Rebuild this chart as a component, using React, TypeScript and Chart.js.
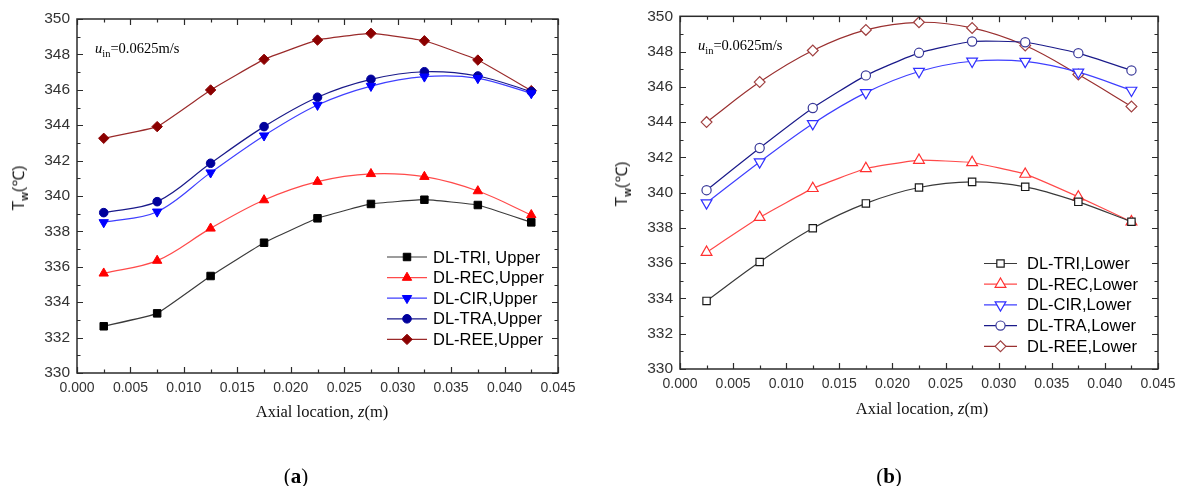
import React, { useEffect, useRef } from 'react';
import { Chart, registerables } from 'chart.js';

Chart.register(...registerables);

// ---------- data ----------
const Z_LOC = [0.0025, 0.0075, 0.0125, 0.0175, 0.0225, 0.0275, 0.0325, 0.0375, 0.0425];

const TRI_UPPER = [332.64, 333.37, 335.48, 337.36, 338.74, 339.55, 339.79, 339.49, 338.51];
const REC_UPPER = [335.63, 336.35, 338.17, 339.77, 340.81, 341.25, 341.09, 340.28, 338.93];
const CIR_UPPER = [338.51, 339.11, 341.32, 343.41, 345.14, 346.21, 346.74, 346.65, 345.8];
const TRA_UPPER = [339.06, 339.68, 341.85, 343.92, 345.58, 346.59, 347.02, 346.78, 345.9];
const REE_UPPER = [343.26, 343.92, 345.99, 347.72, 348.81, 349.19, 348.77, 347.68, 345.95];

const TRI_LOWER = [333.86, 336.07, 337.98, 339.39, 340.29, 340.61, 340.33, 339.48, 338.35];
const REC_LOWER = [336.62, 338.6, 340.24, 341.37, 341.84, 341.71, 341.05, 339.76, 338.35];
const CIR_LOWER = [339.42, 341.74, 343.91, 345.67, 346.87, 347.45, 347.44, 346.83, 345.8];
const TRA_LOWER = [340.14, 342.53, 344.8, 346.65, 347.93, 348.57, 348.53, 347.91, 346.93];
const REE_LOWER = [344.0, 346.27, 348.06, 349.23, 349.66, 349.34, 348.34, 346.7, 344.89];

const LABELS_UPPER = ['DL-TRI, Upper', 'DL-REC,Upper', 'DL-CIR,Upper', 'DL-TRA,Upper', 'DL-REE,Upper'];
const LABELS_LOWER = ['DL-TRI,Lower', 'DL-REC,Lower', 'DL-CIR,Lower', 'DL-TRA,Lower', 'DL-REE,Lower'];

const X_MIN = 0;
const X_MAX = 0.045;
const X_STEP = 0.005;
const Y_MIN = 330;
const Y_MAX = 350;
const Y_STEP = 2;

// ---------- styles ----------
type Style = {
  color: string;
  line: string;
  shape: string;
  rot: number;
  r: number;
};

const STYLES: Style[] = [
  { color: '#000000', line: '#3a3a3a', shape: 'rect', rot: 0, r: 5.3 },
  { color: '#ff0000', line: '#ff4a4a', shape: 'triangle', rot: 0, r: 5.4 },
  { color: '#0000ff', line: '#3f3fff', shape: 'triangle', rot: 180, r: 5.4 },
  { color: '#00009c', line: '#1a1a8a', shape: 'circle', rot: 0, r: 4.3 },
  { color: '#8b0000', line: '#9a2a2a', shape: 'rectRot', rot: 0, r: 5.2 },
];
const STYLES_HOLLOW: Style[] = [
  { color: '#1a1a1a', line: '#3a3a3a', shape: 'rect', rot: 0, r: 5.2 },
  { color: '#ff3030', line: '#ff4a4a', shape: 'triangle', rot: 0, r: 6.2 },
  { color: '#3030ff', line: '#3f3fff', shape: 'triangle', rot: 180, r: 6.2 },
  { color: '#3a3a9a', line: '#1a1a8a', shape: 'circle', rot: 0, r: 4.6 },
  { color: '#a04040', line: '#9a3030', shape: 'rectRot', rot: 0, r: 5.4 },
];
const TENSION_UPPER = [0.1, 0.35, 0.35, 0.35, 0.1];
const TENSION_LOWER = [0.35, 0.1, 0.35, 0.15, 0.35];

function drawMarker(
  ctx: CanvasRenderingContext2D,
  st: Style,
  x: number,
  y: number,
  filled: boolean
) {
  const r = st.r;
  ctx.beginPath();
  if (st.shape === 'rect') {
    const s = r * Math.SQRT1_2;
    ctx.rect(x - s, y - s, 2 * s, 2 * s);
  } else if (st.shape === 'circle') {
    ctx.arc(x, y, r, 0, Math.PI * 2);
  } else if (st.shape === 'triangle') {
    let rad = (st.rot * Math.PI) / 180;
    ctx.moveTo(x + Math.sin(rad) * r, y - Math.cos(rad) * r);
    rad += (2 * Math.PI) / 3;
    ctx.lineTo(x + Math.sin(rad) * r, y - Math.cos(rad) * r);
    rad += (2 * Math.PI) / 3;
    ctx.lineTo(x + Math.sin(rad) * r, y - Math.cos(rad) * r);
  } else {
    ctx.moveTo(x - r, y);
    ctx.lineTo(x, y - r);
    ctx.lineTo(x + r, y);
    ctx.lineTo(x, y + r);
  }
  ctx.closePath();
  ctx.fillStyle = filled ? st.color : '#ffffff';
  ctx.fill();
  ctx.strokeStyle = st.color;
  ctx.lineWidth = filled ? 1 : 1.2;
  ctx.stroke();
}

type LegendPos = { x1: number; x2: number; tx: number; y0: number; dy: number };

function makeFramePlugin(labels: string[], styles: Style[], filled: boolean, lp: LegendPos) {
  return {
    id: 'frameAndLegend',
    afterDraw(chart: any) {
      const { ctx, chartArea: a, scales } = chart;
      const xs = scales.x;
      const ys = scales.y;
      ctx.save();
      ctx.strokeStyle = '#2b2b2b';
      ctx.lineWidth = 1.5;
      ctx.strokeRect(a.left, a.top, a.right - a.left, a.bottom - a.top);
      ctx.lineWidth = 1.2;
      ctx.beginPath();
      const nx = Math.round((X_MAX - X_MIN) / (X_STEP / 2));
      for (let i = 0; i <= nx; i++) {
        const v = X_MIN + (i * X_STEP) / 2;
        const len = i % 2 === 0 ? 6 : 3.5;
        const px = Math.round(xs.getPixelForValue(v)) + 0.5;
        ctx.moveTo(px, a.bottom);
        ctx.lineTo(px, a.bottom - len);
        ctx.moveTo(px, a.top);
        ctx.lineTo(px, a.top + len);
      }
      const ny = Math.round((Y_MAX - Y_MIN) / (Y_STEP / 2));
      for (let i = 0; i <= ny; i++) {
        const v = Y_MIN + (i * Y_STEP) / 2;
        const len = i % 2 === 0 ? 6 : 3.5;
        const py = Math.round(ys.getPixelForValue(v)) + 0.5;
        ctx.moveTo(a.left, py);
        ctx.lineTo(a.left + len, py);
        ctx.moveTo(a.right, py);
        ctx.lineTo(a.right - len, py);
      }
      ctx.stroke();

      // legend
      ctx.font = '16.5px "Liberation Sans", Arial, sans-serif';
      ctx.textBaseline = 'middle';
      ctx.textAlign = 'left';
      labels.forEach((lab, i) => {
        const y = lp.y0 + i * lp.dy;
        const st = styles[i];
        ctx.beginPath();
        ctx.strokeStyle = st.line;
        ctx.lineWidth = 1.2;
        ctx.moveTo(lp.x1, y);
        ctx.lineTo(lp.x2, y);
        ctx.stroke();
        drawMarker(ctx, st, (lp.x1 + lp.x2) / 2, y, filled);
        ctx.fillStyle = '#000';
        ctx.fillText(lab, lp.tx, y + 1);
      });
      ctx.restore();
    },
  };
}

type PanelProps = {
  series: number[][];
  labels: string[];
  styles: Style[];
  tensions: number[];
  filled: boolean;
  width: number;
  height: number;
  yWidth: number;
  padding: { top: number; right: number; bottom: number; left: number };
  legend: LegendPos;
};

function Panel(p: PanelProps) {
  const ref = useRef<HTMLCanvasElement | null>(null);
  useEffect(() => {
    if (!ref.current) return;
    const tickFont = { family: '"Liberation Sans", Arial, sans-serif', size: 15.5 };
    const chart = new Chart(ref.current, {
      type: 'line',
      data: {
        datasets: p.series.map((vals, i) => {
          const st = p.styles[i];
          return {
            label: p.labels[i],
            data: Z_LOC.map((z, k) => ({ x: z, y: vals[k] })),
            borderColor: st.line,
            borderWidth: 1.2,
            pointStyle: st.shape as any,
            pointRotation: st.rot,
            pointRadius: st.r,
            pointHoverRadius: st.r,
            pointBackgroundColor: p.filled ? st.color : '#ffffff',
            pointBorderColor: st.color,
            pointBorderWidth: p.filled ? 1 : 1.2,
            tension: p.tensions[i],
            fill: false,
          };
        }),
      },
      options: {
        animation: false,
        responsive: false,
        devicePixelRatio: 1,
        events: [],
        layout: { padding: p.padding },
        plugins: { legend: { display: false }, tooltip: { enabled: false } },
        scales: {
          x: {
            type: 'linear',
            min: X_MIN,
            max: X_MAX,
            grid: { display: false, drawTicks: false },
            border: { display: false },
            ticks: {
              stepSize: X_STEP,
              autoSkip: false,
              maxRotation: 0,
              padding: 7,
              color: '#333',
              font: { family: '"Liberation Sans", Arial, sans-serif', size: 14 },
              callback: (v: any) => Number(v).toFixed(3),
            },
            afterFit: (s: any) => {
              s.height = 40;
            },
          },
          y: {
            type: 'linear',
            min: Y_MIN,
            max: Y_MAX,
            grid: { display: false, drawTicks: false },
            border: { display: false },
            ticks: {
              stepSize: Y_STEP,
              padding: 7,
              color: '#333',
              font: tickFont,
            },
            afterFit: (s: any) => {
              s.width = p.yWidth;
            },
          },
        },
      },
      plugins: [makeFramePlugin(p.labels, p.styles, p.filled, p.legend)],
    } as any);
    return () => chart.destroy();
  }, []);
  return (
    <canvas
      ref={ref}
      width={p.width}
      height={p.height}
      style={{ width: p.width, height: p.height, display: 'block' }}
    />
  );
}

const abs = (extra: React.CSSProperties): React.CSSProperties => ({
  position: 'absolute',
  whiteSpace: 'nowrap',
  ...extra,
});

export default function App() {
  const serif = '"Liberation Serif", "Times New Roman", serif';
  const sans = '"Liberation Sans", Arial, sans-serif';
  return (
    <div
      style={{
        position: 'absolute',
        left: 0,
        top: 0,
        width: 1185,
        height: 486,
        background: '#fff',
        overflow: 'hidden',
      }}
    >
      <div style={abs({ left: 0, top: 0 })}>
        <Panel
          series={[TRI_UPPER, REC_UPPER, CIR_UPPER, TRA_UPPER, REE_UPPER]}
          labels={LABELS_UPPER}
          styles={STYLES}
          tensions={TENSION_UPPER}
          filled={true}
          width={590}
          height={430}
          yWidth={77}
          padding={{ top: 19, right: 32, bottom: 17, left: 0 }}
          legend={{ x1: 387, x2: 427, tx: 433, y0: 257, dy: 20.6 }}
        />
      </div>
      <div style={abs({ left: 590, top: 0 })}>
        <Panel
          series={[TRI_LOWER, REC_LOWER, CIR_LOWER, TRA_LOWER, REE_LOWER]}
          labels={LABELS_LOWER}
          styles={STYLES_HOLLOW}
          tensions={TENSION_LOWER}
          filled={false}
          width={595}
          height={430}
          yWidth={90}
          padding={{ top: 16, right: 27, bottom: 21, left: 0 }}
          legend={{ x1: 394, x2: 427, tx: 437, y0: 263.5, dy: 20.7 }}
        />
      </div>

      {/* y-axis titles */}
      <div
        style={abs({
          left: 19,
          top: 188,
          transform: 'translate(-50%, -50%) rotate(-90deg)',
          font: `16px ${sans}`,
          color: '#222',
          lineHeight: 1,
        })}
      >
        T<sub style={{ fontSize: 11, fontWeight: 'bold', lineHeight: 0 }}>w</sub>(℃)
      </div>
      <div
        style={abs({
          left: 622,
          top: 184,
          transform: 'translate(-50%, -50%) rotate(-90deg)',
          font: `16px ${sans}`,
          color: '#222',
          lineHeight: 1,
        })}
      >
        T<sub style={{ fontSize: 11, fontWeight: 'bold', lineHeight: 0 }}>w</sub>(℃)
      </div>

      {/* inlet velocity annotations */}
      <div style={abs({ left: 95, top: 41, font: `14.5px ${serif}`, lineHeight: 1, color: '#000' })}>
        <i>u</i>
        <sub style={{ fontSize: 10.5, lineHeight: 0 }}>in</sub>=0.0625m/s
      </div>
      <div style={abs({ left: 698, top: 38, font: `14.5px ${serif}`, lineHeight: 1, color: '#000' })}>
        <i>u</i>
        <sub style={{ fontSize: 10.5, lineHeight: 0 }}>in</sub>=0.0625m/s
      </div>

      {/* x-axis titles */}
      <div
        style={abs({
          left: 322,
          top: 412,
          transform: 'translate(-50%, -50%)',
          font: `16.5px ${serif}`,
          color: '#111',
          lineHeight: 1,
        })}
      >
        Axial location, <i>z</i>(m)
      </div>
      <div
        style={abs({
          left: 922,
          top: 409,
          transform: 'translate(-50%, -50%)',
          font: `16.5px ${serif}`,
          color: '#111',
          lineHeight: 1,
        })}
      >
        Axial location, <i>z</i>(m)
      </div>

      {/* panel captions */}
      <div
        style={abs({
          left: 296,
          top: 476,
          transform: 'translate(-50%, -50%)',
          font: `21px ${serif}`,
          color: '#000',
          lineHeight: 1,
        })}
      >
        (<b>a</b>)
      </div>
      <div
        style={abs({
          left: 889,
          top: 476,
          transform: 'translate(-50%, -50%)',
          font: `21px ${serif}`,
          color: '#000',
          lineHeight: 1,
        })}
      >
        (<b>b</b>)
      </div>
    </div>
  );
}
